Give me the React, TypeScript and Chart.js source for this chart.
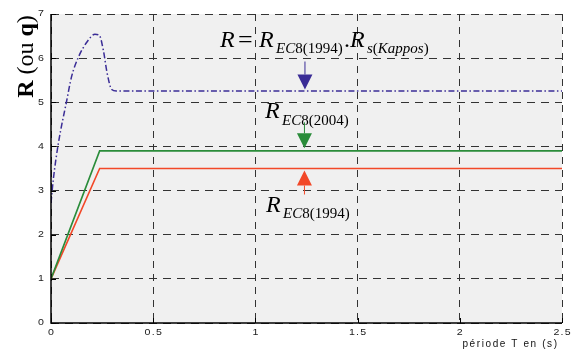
import React, { useEffect, useRef } from "react";
import { Chart, registerables } from "chart.js";

Chart.register(...registerables);

// ---- data ----
const blueT = [0, 0.011, 0.036, 0.077, 0.1, 0.134, 0.175, 0.215, 0.236, 0.256, 0.275, 0.297, 0.32, 2.5];
const blueR = [2.72, 3.24, 4.07, 5.04, 5.57, 6.02, 6.36, 6.54, 6.52, 6.18, 5.65, 5.29, 5.255, 5.255];
const greenT = [0, 0.238, 2.5];
const greenR = [1, 3.9, 3.9];
const redT = [0, 0.238, 2.5];
const redR = [1, 3.5, 3.5];
const xTickValues = [0, 0.5, 1, 1.5, 2, 2.5];
const xTickLabels = ["0", "0.5", "1", "1.5", "2", "2.5"];
const yTickValues = [0, 1, 2, 3, 4, 5, 6, 7];
const yTickLabels = ["0", "1", "2", "3", "4", "5", "6", "7"];

const BLUE = "rgb(58,44,150)";
const GREEN = "rgb(42,140,58)";
const RED = "rgb(242,72,40)";
const SERIF = "'Liberation Serif', 'DejaVu Serif', serif";
const SANS = "'Liberation Sans', Arial, sans-serif";

const toPts = (xs: number[], ys: number[]) => xs.map((x, i) => ({ x, y: ys[i] }));

type Run = { t: string; italic?: boolean; bold?: boolean; size: number; dy?: number };

function drawRuns(ctx: CanvasRenderingContext2D, x: number, y: number, runs: Run[]) {
  let cx = x;
  for (const r of runs) {
    ctx.font = `${r.italic ? "italic " : ""}${r.bold ? "bold " : ""}${r.size}px ${SERIF}`;
    ctx.fillText(r.t, cx, y + (r.dy || 0));
    cx += ctx.measureText(r.t).width;
  }
  return cx;
}

// draw text char by char with extra spacing (and optional horizontal stretch)
function drawSpaced(ctx: CanvasRenderingContext2D, text: string, x: number, y: number, align: string, sp: number, sx = 1) {
  const chars = Array.from(text);
  const widths = chars.map((c) => ctx.measureText(c).width * sx);
  const total = widths.reduce((a, b) => a + b, 0) + sp * (chars.length - 1);
  let cx = align === "center" ? x - total / 2 : align === "right" ? x - total : x;
  ctx.save();
  ctx.textAlign = "left";
  chars.forEach((c, i) => {
    ctx.save();
    ctx.translate(cx, y);
    ctx.scale(sx, 1);
    ctx.fillText(c, 0, 0);
    ctx.restore();
    cx += widths[i] + sp;
  });
  ctx.restore();
}

function arrow(ctx: CanvasRenderingContext2D, x: number, tip: number, dir: 1 | -1, color: string, head: number, stem: number) {
  const base = tip - dir * head;
  ctx.save();
  ctx.strokeStyle = color;
  ctx.fillStyle = color;
  ctx.lineWidth = 1;
  ctx.beginPath();
  ctx.moveTo(x, base);
  ctx.lineTo(x, base - dir * stem);
  ctx.stroke();
  ctx.beginPath();
  ctx.moveTo(x - 7.5, base);
  ctx.lineTo(x + 7.5, base);
  ctx.lineTo(x, tip);
  ctx.closePath();
  ctx.fill();
  ctx.restore();
}

const decoPlugin = {
  id: "deco",
  beforeDraw(chart: any) {
    const { ctx, chartArea: a } = chart;
    ctx.save();
    ctx.fillStyle = "#f0f0f0";
    ctx.fillRect(a.left, a.top, a.right - a.left, a.bottom - a.top);
    ctx.restore();
  },
  afterDatasetsDraw(chart: any) {
    const { ctx, chartArea: a } = chart;
    const xs = chart.scales.x;
    const ys = chart.scales.y;
    ctx.save();
    // axes (solid) + inward ticks
    ctx.strokeStyle = "#000";
    ctx.lineWidth = 1.5;
    ctx.beginPath();
    ctx.moveTo(a.left, a.top);
    ctx.lineTo(a.left, a.bottom);
    ctx.lineTo(a.right, a.bottom);
    ctx.stroke();
    ctx.lineWidth = 1;
    ctx.beginPath();
    for (const v of xTickValues) {
      const px = Math.round(xs.getPixelForValue(v)) + 0.5;
      ctx.moveTo(px, a.bottom);
      ctx.lineTo(px, a.bottom - 5);
    }
    for (const v of yTickValues) {
      const py = Math.round(ys.getPixelForValue(v)) + 0.5;
      ctx.moveTo(a.left, py);
      ctx.lineTo(a.left + 5, py);
    }
    ctx.stroke();

    // tick labels
    ctx.fillStyle = "#1a1a1a";
    ctx.font = `9px ${SANS}`;
    ctx.textBaseline = "middle";
    xTickValues.forEach((v, i) => {
      drawSpaced(ctx, xTickLabels[i], xs.getPixelForValue(v), a.bottom + 9.5, "center", 1.2, 1.18);
    });
    yTickValues.forEach((v, i) => {
      drawSpaced(ctx, yTickLabels[i], a.left - 7, ys.getPixelForValue(v), "right", 1.2, 1.18);
    });

    // x-axis title
    ctx.font = `10px ${SANS}`;
    ctx.textBaseline = "alphabetic";
    ctx.fillStyle = "#111";
    drawSpaced(ctx, "période T en (s)", 557, 347, "right", 1.6);

    // annotations
    const ax = xs.getPixelForValue(1.24);
    ctx.fillStyle = "#000";
    ctx.textBaseline = "alphabetic";
    ctx.textAlign = "left";

    // R = R_EC8(1994) . R_s(Kappos)
    drawRuns(ctx, 220, 47, [{ t: "R", italic: true, size: 24 }]);
    drawRuns(ctx, 238, 48, [{ t: "=", size: 26 }]);
    drawRuns(ctx, 259, 47, [{ t: "R", italic: true, size: 24 }]);
    drawRuns(ctx, 276, 53, [
      { t: "EC", italic: true, size: 15 },
      { t: "8(1994)", size: 15 },
    ]);
    drawRuns(ctx, 344, 47, [{ t: ".", size: 24 }]);
    drawRuns(ctx, 350, 47, [{ t: "R", italic: true, size: 24 }]);
    drawRuns(ctx, 367, 53, [
      { t: "s", italic: true, size: 15 },
      { t: "(", size: 15 },
      { t: "Kappos", italic: true, size: 15 },
      { t: ")", size: 15 },
    ]);

    // R_EC8(2004)
    drawRuns(ctx, 265, 118, [{ t: "R", italic: true, size: 24 }]);
    drawRuns(ctx, 282, 125, [
      { t: "EC", italic: true, size: 15 },
      { t: "8(2004)", size: 15 },
    ]);

    // R_EC8(1994)
    drawRuns(ctx, 266, 212, [{ t: "R", italic: true, size: 24 }]);
    drawRuns(ctx, 283, 218, [
      { t: "EC", italic: true, size: 15 },
      { t: "8(1994)", size: 15 },
    ]);

    // arrows
    arrow(ctx, ax + 0.5, ys.getPixelForValue(5.255) - 1.5, 1, BLUE, 15, 13);
    arrow(ctx, ax, ys.getPixelForValue(3.9) - 2.5, 1, GREEN, 15, 11);
    arrow(ctx, ax, ys.getPixelForValue(3.5) + 2, -1, RED, 15, 9);

    // y-axis title "R (ou q)"
    ctx.save();
    ctx.translate(33, 56.5);
    ctx.rotate(-Math.PI / 2);
    const runs: Run[] = [
      { t: "R", bold: true, size: 24 },
      { t: " (ou ", size: 24 },
      { t: "q", bold: true, size: 24 },
      { t: ")", size: 24 },
    ];
    let total = 0;
    for (const r of runs) {
      ctx.font = `${r.bold ? "bold " : ""}${r.size}px ${SERIF}`;
      total += ctx.measureText(r.t).width;
    }
    drawRuns(ctx, -total / 2, 0, runs);
    ctx.restore();

    ctx.restore();
  },
};

export default function App() {
  const ref = useRef<HTMLCanvasElement | null>(null);
  useEffect(() => {
    document.body.style.margin = "0";
    if (!ref.current) return;
    const gridCommon = {
      color: "#333",
      lineWidth: 1,
      drawTicks: false,
    };
    const chart = new Chart(ref.current, {
      type: "line",
      data: {
        datasets: [
          {
            label: "R = REC8(1994).Rs(Kappos)",
            data: toPts(blueT, blueR),
            borderColor: BLUE,
            borderWidth: 1.5,
            borderDash: [6, 2.5, 1.5, 2.5],
            pointRadius: 0,
            cubicInterpolationMode: "monotone",
            fill: false,
          },
          {
            label: "REC8(2004)",
            data: toPts(greenT, greenR),
            borderColor: GREEN,
            borderWidth: 1.6,
            pointRadius: 0,
            fill: false,
          },
          {
            label: "REC8(1994)",
            data: toPts(redT, redR),
            borderColor: RED,
            borderWidth: 1.6,
            pointRadius: 0,
            fill: false,
          },
        ],
      },
      options: {
        animation: false,
        responsive: false,
        devicePixelRatio: 1,
        layout: { padding: { top: 14, right: 10, left: 0, bottom: 0 } },
        plugins: { legend: { display: false }, tooltip: { enabled: false } },
        scales: {
          x: {
            type: "linear",
            min: 0,
            max: 2.5,
            afterBuildTicks: (s: any) => {
              s.ticks = xTickValues.map((v) => ({ value: v }));
            },
            afterFit: (s: any) => {
              s.height = 28;
            },
            ticks: { display: false },
            grid: gridCommon,
            border: { display: false, dash: [7, 6] },
          },
          y: {
            type: "linear",
            min: 0,
            max: 7,
            afterBuildTicks: (s: any) => {
              s.ticks = yTickValues.map((v) => ({ value: v }));
            },
            afterFit: (s: any) => {
              s.width = 51;
            },
            ticks: { display: false },
            grid: gridCommon,
            border: { display: false, dash: [8, 6] },
          },
        },
      },
      plugins: [decoPlugin],
    } as any);
    return () => chart.destroy();
  }, []);
  return <canvas ref={ref} width={572} height={351} style={{ display: "block" }} />;
}
